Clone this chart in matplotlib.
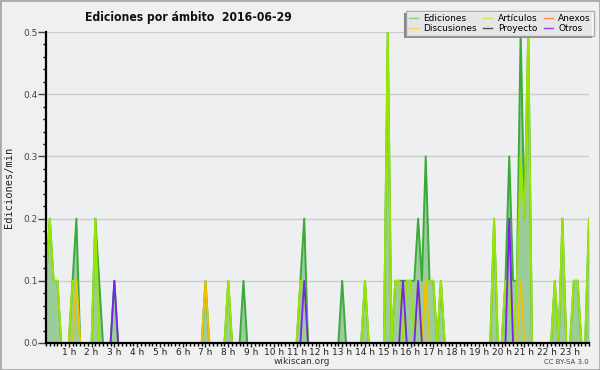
import matplotlib
matplotlib.use("Agg")
import matplotlib.pyplot as plt
from matplotlib.lines import Line2D
from matplotlib.patches import Rectangle
import numpy as np

# 10-minute bins, 144 per day (edits per minute); each row = 2 hours
ediciones = [
    0.1, 0.2, 0.1, 0.1, 0.0, 0.0, 0.0, 0.1, 0.2, 0.0, 0.0, 0.0,
    0.0, 0.2, 0.1, 0.0, 0.0, 0.0, 0.1, 0.0, 0.0, 0.0, 0.0, 0.0,
    0.0, 0.0, 0.0, 0.0, 0.0, 0.0, 0.0, 0.0, 0.0, 0.0, 0.0, 0.0,
    0.0, 0.0, 0.0, 0.0, 0.0, 0.0, 0.1, 0.0, 0.0, 0.0, 0.0, 0.0,
    0.1, 0.0, 0.0, 0.0, 0.1, 0.0, 0.0, 0.0, 0.0, 0.0, 0.0, 0.0,
    0.0, 0.0, 0.0, 0.0, 0.0, 0.0, 0.0, 0.1, 0.2, 0.0, 0.0, 0.0,
    0.0, 0.0, 0.0, 0.0, 0.0, 0.0, 0.1, 0.0, 0.0, 0.0, 0.0, 0.0,
    0.1, 0.0, 0.0, 0.0, 0.0, 0.0, 0.5, 0.0, 0.1, 0.1, 0.1, 0.1,
    0.1, 0.1, 0.2, 0.1, 0.3, 0.1, 0.1, 0.0, 0.1, 0.0, 0.0, 0.0,
    0.0, 0.0, 0.0, 0.0, 0.0, 0.0, 0.0, 0.0, 0.0, 0.0, 0.2, 0.0,
    0.0, 0.1, 0.3, 0.1, 0.1, 0.5, 0.2, 0.5, 0.0, 0.0, 0.0, 0.0,
    0.0, 0.0, 0.1, 0.0, 0.2, 0.0, 0.0, 0.1, 0.1, 0.0, 0.0, 0.2,
]
articulos = [
    0.1, 0.2, 0.1, 0.1, 0.0, 0.0, 0.0, 0.1, 0.1, 0.0, 0.0, 0.0,
    0.0, 0.2, 0.0, 0.0, 0.0, 0.0, 0.0, 0.0, 0.0, 0.0, 0.0, 0.0,
    0.0, 0.0, 0.0, 0.0, 0.0, 0.0, 0.0, 0.0, 0.0, 0.0, 0.0, 0.0,
    0.0, 0.0, 0.0, 0.0, 0.0, 0.0, 0.0, 0.0, 0.0, 0.0, 0.0, 0.0,
    0.1, 0.0, 0.0, 0.0, 0.0, 0.0, 0.0, 0.0, 0.0, 0.0, 0.0, 0.0,
    0.0, 0.0, 0.0, 0.0, 0.0, 0.0, 0.0, 0.1, 0.1, 0.0, 0.0, 0.0,
    0.0, 0.0, 0.0, 0.0, 0.0, 0.0, 0.0, 0.0, 0.0, 0.0, 0.0, 0.0,
    0.1, 0.0, 0.0, 0.0, 0.0, 0.0, 0.5, 0.0, 0.1, 0.1, 0.0, 0.1,
    0.1, 0.0, 0.1, 0.0, 0.1, 0.1, 0.1, 0.0, 0.1, 0.0, 0.0, 0.0,
    0.0, 0.0, 0.0, 0.0, 0.0, 0.0, 0.0, 0.0, 0.0, 0.0, 0.2, 0.0,
    0.0, 0.1, 0.1, 0.0, 0.1, 0.3, 0.2, 0.5, 0.0, 0.0, 0.0, 0.0,
    0.0, 0.0, 0.1, 0.0, 0.2, 0.0, 0.0, 0.1, 0.1, 0.0, 0.0, 0.2,
]
# sparse series: bin index -> value
discusiones = {8: 0.1, 42: 0.1, 100: 0.1, 125: 0.1}
otros = {18: 0.1, 68: 0.1, 94: 0.1, 98: 0.1, 122: 0.2}
anexos = {}
proyecto = {}

hour_labels = ["%d h" % h for h in range(1, 24)]

N = len(ediciones)
x = np.arange(N)


def dense(d):
    arr = np.zeros(N)
    for k, v in d.items():
        arr[k] = v
    return arr


fig = plt.figure(figsize=(6.0, 3.7), dpi=100)
fig.patch.set_facecolor("#f0f0f0")
ax = fig.add_axes([46 / 600, 27 / 370, 543 / 600, 311 / 370])
ax.set_facecolor("#eeeff1")

for yv in [0.1, 0.2, 0.3, 0.4, 0.5]:
    ax.axhline(yv, color="#cccccc", lw=1, zorder=1)

ax.fill_between(x, 0, ediciones, color="#9ccc9c", lw=0, zorder=2)
ax.plot(x, ediciones, color="#3aaa3a", lw=1.4, zorder=3)
ax.plot(x, articulos, color="#9be600", lw=1.4, zorder=4)
ax.plot(x, dense(anexos), color="#ff7744", lw=1.2, zorder=5)
ax.plot(x, dense(proyecto), color="#444444", lw=1.2, zorder=5)
ax.plot(x, dense(discusiones), color="#f2c200", lw=1.3, zorder=6)
ax.plot(x, dense(otros), color="#7a22ee", lw=1.3, zorder=7)

ax.set_xlim(0, N - 1)
ax.set_ylim(0, 0.5)
for s in ["top", "right"]:
    ax.spines[s].set_visible(False)
for s in ["left", "bottom"]:
    ax.spines[s].set_linewidth(1.6)
    ax.spines[s].set_zorder(20)
    ax.spines[s].set_color("black")
ax.set_xticks([6 * h for h in range(1, 24)])
ax.set_xticklabels(hour_labels)
ax.set_xticks(np.arange(0, N, 1), minor=True)
ax.set_yticks([0.0, 0.1, 0.2, 0.3, 0.4, 0.5])
ax.set_yticklabels(["0.0", "0.1", "0.2", "0.3", "0.4", "0.5"])
ax.set_yticks(np.arange(0, 0.51, 0.02), minor=True)
ax.tick_params(axis="x", which="major", length=3, width=1, labelsize=6.5, pad=0.5, colors="#222222")
ax.tick_params(axis="x", which="minor", length=2, width=1)
ax.tick_params(axis="y", which="major", length=5.5, width=1, labelsize=6.5, pad=0.5, colors="#444444")
ax.tick_params(axis="y", which="minor", length=2.5, width=1)
ax.set_ylabel("Ediciones/min", family="DejaVu Sans Mono", fontsize=7.5, labelpad=7, color="#222222")

fig.text(85 / 600, 1 - 17 / 370, "Ediciones por ámbito  2016-06-29", fontsize=8.7,
         fontweight="bold", fontstretch="condensed", va="center", ha="left", color="#111111")
fig.text(302 / 600, 1 - 362 / 370, "wikiscan.org", fontsize=6.5, ha="center", va="center", color="#333333")
fig.text(589 / 600, 1 - 362 / 370, "CC BY-SA 3.0", fontsize=5, ha="right", va="center", color="#444444")

handles = [
    Line2D([], [], color="#88cc88", lw=1),
    Line2D([], [], color="#ffd044", lw=1),
    Line2D([], [], color="#ccee44", lw=1),
    Line2D([], [], color="#555555", lw=1),
    Line2D([], [], color="#ff8855", lw=1),
    Line2D([], [], color="#8844ee", lw=1),
]
labels = ["Ediciones", "Discusiones", "Artículos", "Proyecto", "Anexos", "Otros"]
leg = fig.legend(handles, labels, ncol=3, loc="upper right",
                 bbox_to_anchor=(594 / 600, 1 - 11 / 370), fontsize=6.5,
                 frameon=True, fancybox=False, handlelength=1.0, handletextpad=0.6,
                 columnspacing=0.7, labelspacing=0.1, borderpad=0.35, borderaxespad=0)
leg.get_frame().set_edgecolor("#999999")
leg.get_frame().set_linewidth(1)
leg.get_frame().set_facecolor("white")
leg.set_zorder(10)

fig.canvas.draw()
bb = leg.get_window_extent()
fig.patches.append(Rectangle((bb.x0 - 2, bb.y0 - 2), bb.width, bb.height, transform=None,
                             facecolor="#888888", edgecolor="none", zorder=9))
fig.patches.append(Rectangle((0, 0), 1, 1, transform=fig.transFigure, fill=False,
                             edgecolor="#aaaaaa", lw=2, zorder=20))

fig.savefig("out.png", dpi=100, facecolor=fig.get_facecolor())
